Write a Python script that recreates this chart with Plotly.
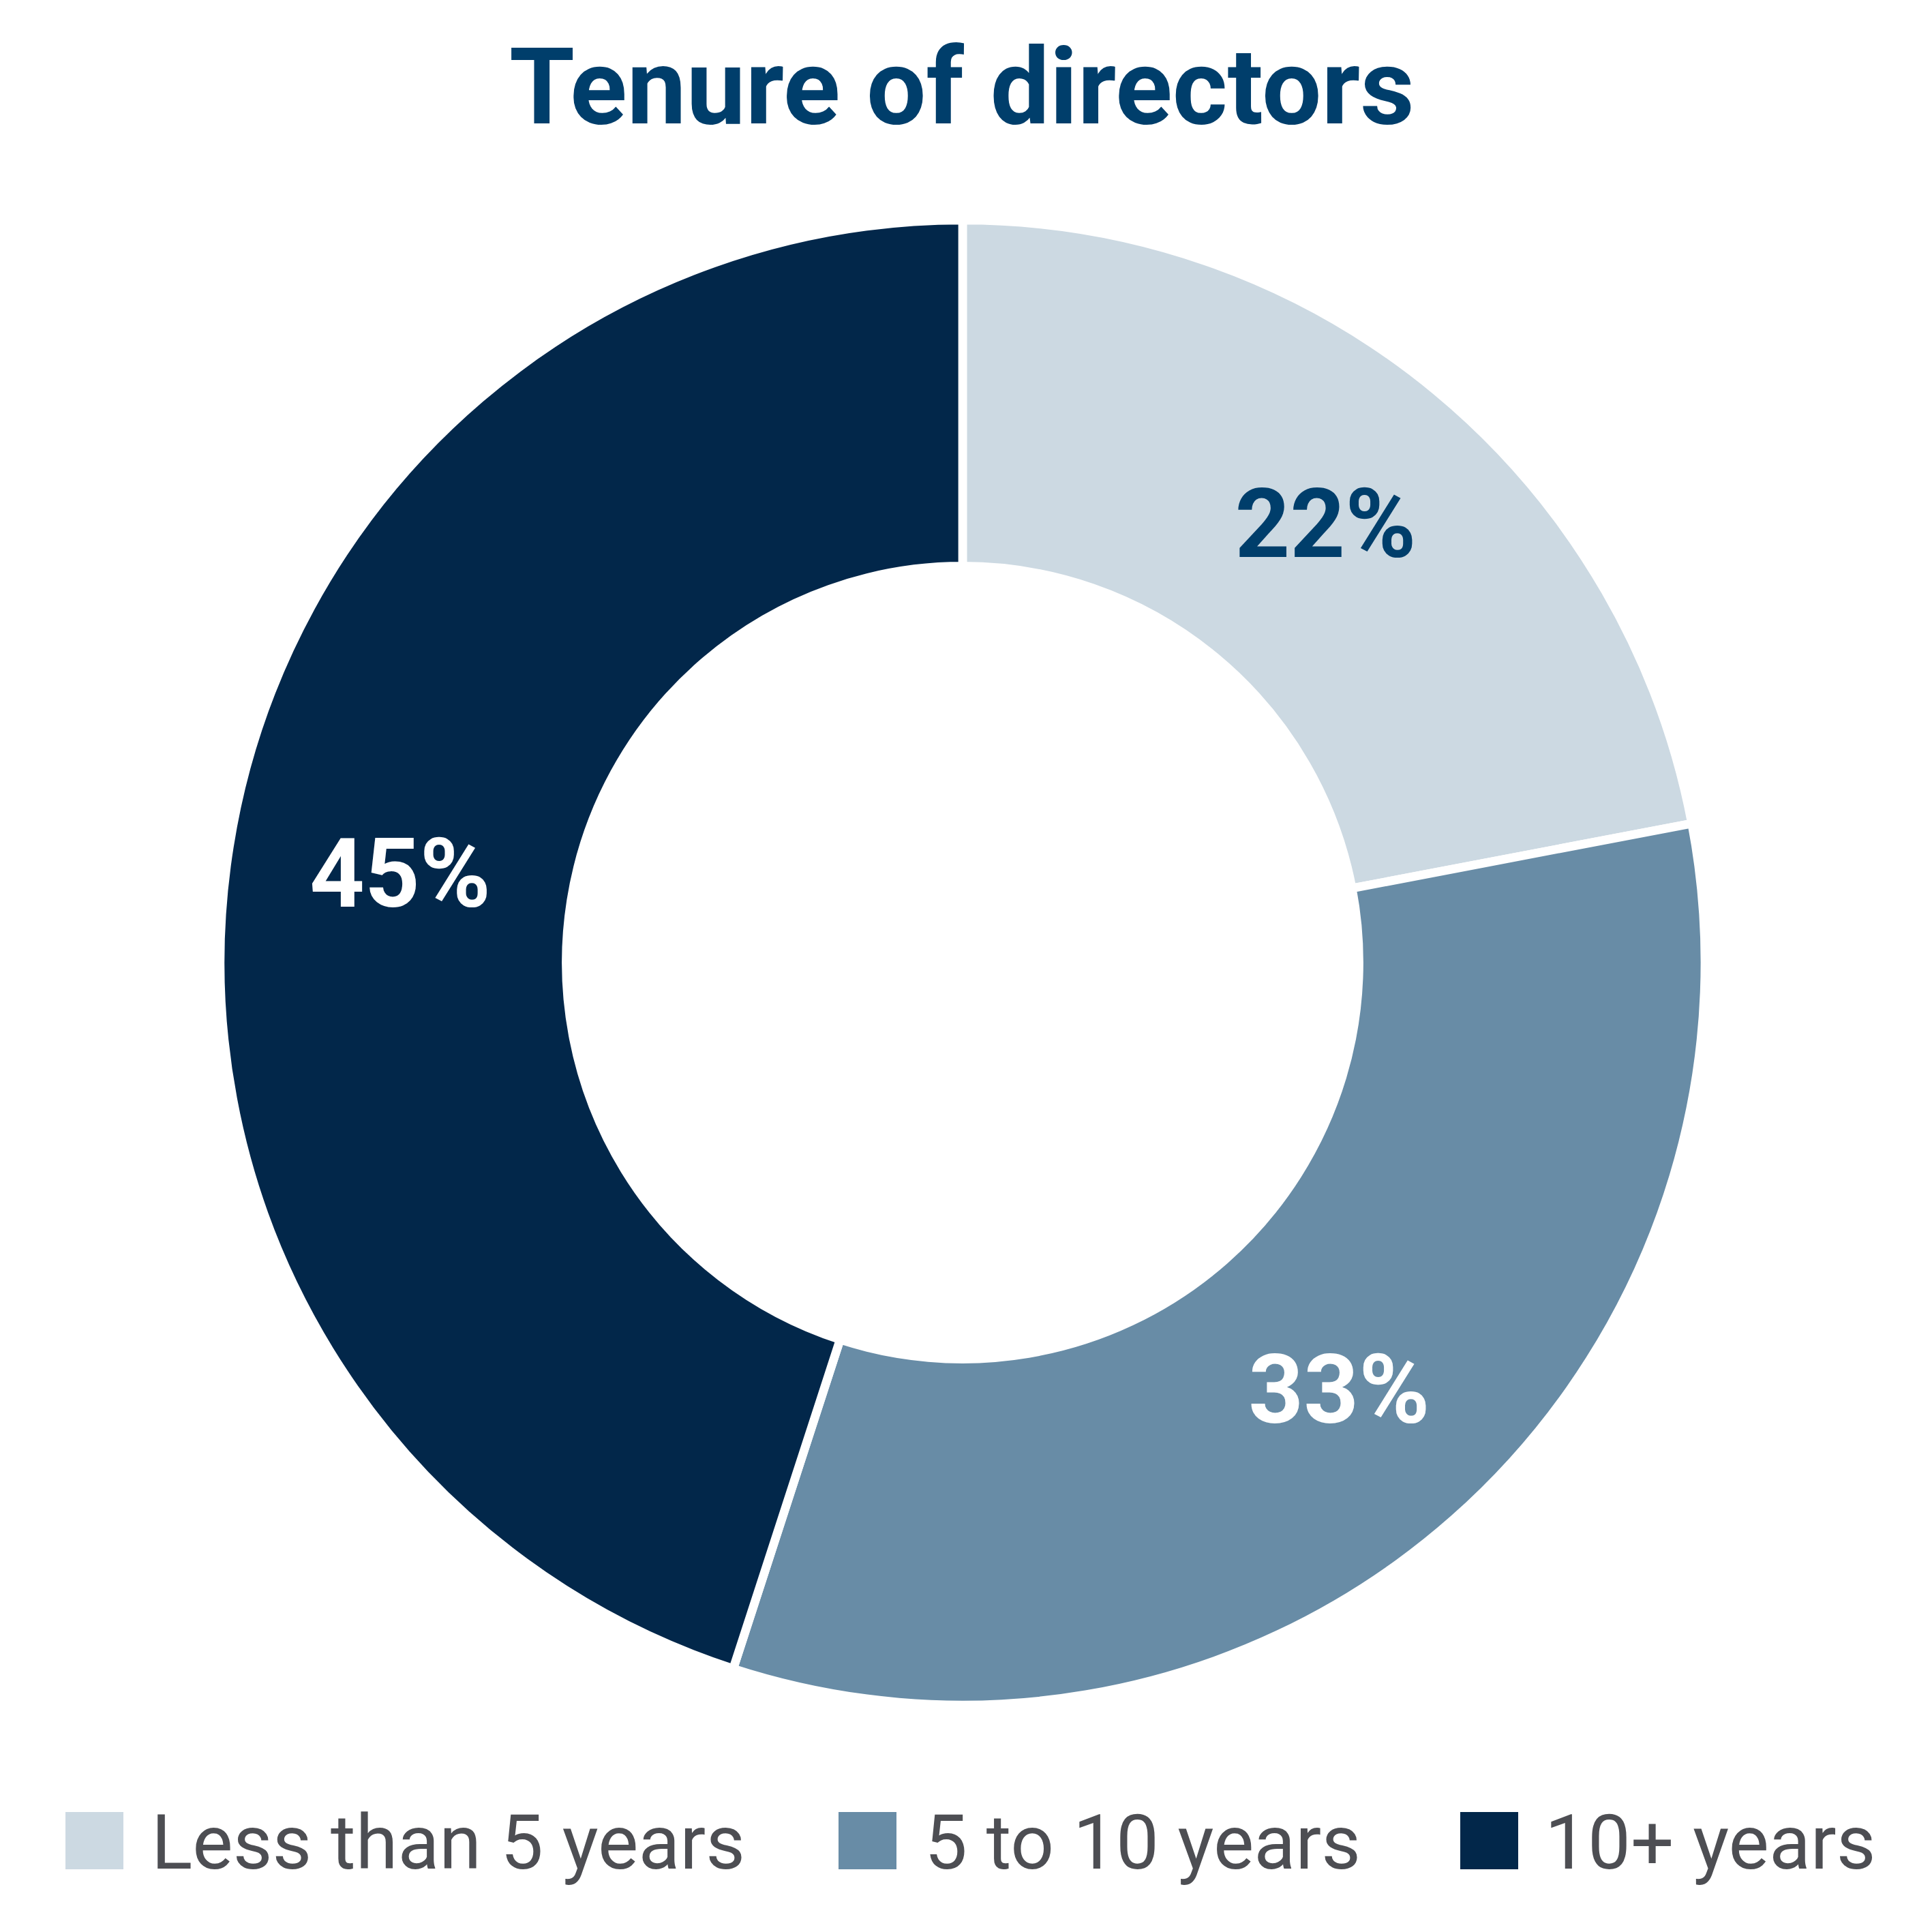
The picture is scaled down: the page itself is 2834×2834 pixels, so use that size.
import plotly.graph_objects as go

categories = ["Less than 5 years", "5 to 10 years", "10+ years"]
values = [22, 33, 45]
slice_colors = ["#CCD9E2", "#688CA6", "#02274A"]
label_colors = ["#003E6B", "#FFFFFF", "#FFFFFF"]
title_text = "Tenure of directors"

W = H = 2834
CX = CY = 1404   # donut centre in figure pixels (from top-left)
R = 1089

fig = go.Figure()
fig.add_trace(go.Pie(
    labels=categories,
    values=values,
    sort=False,
    direction="clockwise",
    rotation=0,
    hole=0.534,
    marker=dict(colors=slice_colors, line=dict(color="#FFFFFF", width=12.7)),
    textinfo="percent",
    textposition="inside",
    insidetextorientation="horizontal",
    textfont=dict(family="Roboto", size=141, weight="bold", color=label_colors),
    showlegend=False,
    domain=dict(x=[(CX - R) / W, (CX + R) / W],
                y=[(H - CY - R) / H, (H - CY + R) / H]),
))

# title
fig.add_annotation(
    text="<b>" + title_text + "</b>", x=1403 / W, y=1 - 120 / H, xref="paper", yref="paper",
    xanchor="center", yanchor="middle", showarrow=False,
    font=dict(family="Roboto", size=155, color="#003E6B"),
)

# legend (manual, large swatches)
sw_x = [88, 1222, 2134]
tx_x = [212, 1346, 2256]
for i, name in enumerate(categories):
    fig.add_shape(type="rect", xref="paper", yref="paper",
                  x0=sw_x[i] / W, x1=(sw_x[i] + 85) / W,
                  y0=1 - 2734 / H, y1=1 - 2650 / H,
                  fillcolor=slice_colors[i], line=dict(width=0))
    fig.add_annotation(text=name, x=tx_x[i] / W, y=1 - 2694 / H, xref="paper", yref="paper",
                       xanchor="left", yanchor="middle", showarrow=False,
                       font=dict(family="Roboto", size=112, color="#4D4E53"))

fig.update_layout(
    width=W, height=H,
    margin=dict(l=0, r=0, t=0, b=0),
    paper_bgcolor="#FFFFFF", plot_bgcolor="#FFFFFF",
)

fig.write_html("out.html")
